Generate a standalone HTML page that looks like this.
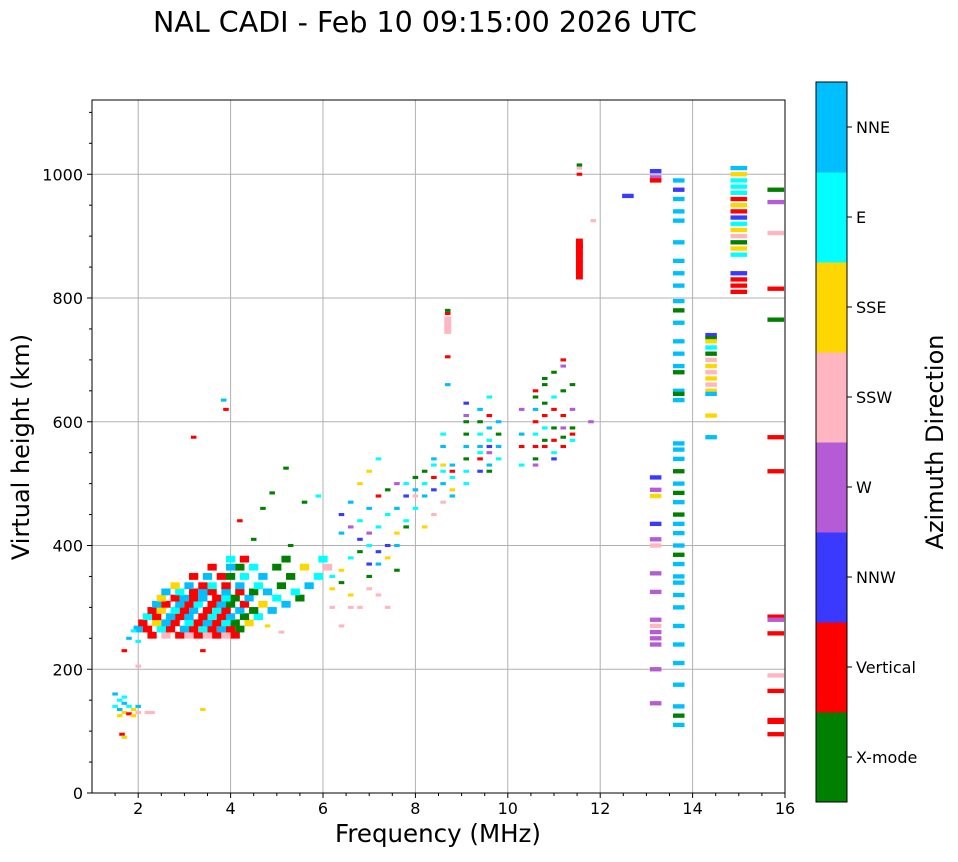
<!DOCTYPE html>
<html><head><meta charset="utf-8"><style>
body{margin:0;background:#fff;}
svg text{font-family:"DejaVu Sans","Liberation Sans",sans-serif;}
</style></head><body>
<svg id="chart" width="958" height="857" xmlns="http://www.w3.org/2000/svg">
<text x="425" y="32" font-size="28.5" text-anchor="middle">NAL CADI - Feb 10 09:15:00 2026 UTC</text>
<g id="grid"></g><g id="marks"></g><g id="axes"></g><g id="cbar"></g>
<text x="438" y="842" font-size="24.5" text-anchor="middle">Frequency (MHz)</text>
<text transform="translate(29,447) rotate(-90)" font-size="24" text-anchor="middle">Virtual height (km)</text>
<text transform="translate(943,442) rotate(-90)" font-size="24" text-anchor="middle">Azimuth Direction</text>
</svg>
<script>
const xTicks=[2,4,6,8,10,12,14,16];
const yTicks=[0,200,400,600,800,1000];
const dirNames=["X-mode","Vertical","NNW","W","SSW","SSE","E","NNE"];
const dirColors=["#008000","#ff0000","#3a3aff","#b65bd6","#ffb6c1","#ffd700","#00ffff","#00bfff"];
// dense cluster [freq, height, dirIndex]
const densePoints=[
[2.3,255,1],[2.6,255,4],[2.9,255,1],[3.1,255,4],[3.3,255,1],[3.5,255,4],[3.7,255,1],[3.9,255,4],[4.1,255,1],
[2.0,265,7],[2.2,265,1],[2.5,265,6],[2.7,265,1],[3.0,265,7],[3.2,265,1],[3.4,265,6],[3.6,265,1],[3.8,265,7],[4.0,265,1],[4.2,265,0],
[2.1,275,1],[2.4,275,5],[2.6,275,7],[2.8,275,1],[3.1,275,6],[3.3,275,1],[3.5,275,7],[3.7,275,1],[3.9,275,6],[4.1,275,0],[4.4,275,5],
[2.2,285,6],[2.4,285,1],[2.7,285,7],[2.9,285,1],[3.1,285,7],[3.4,285,1],[3.6,285,6],[3.8,285,1],[4.0,285,7],[4.3,285,0],[4.6,285,6],
[2.3,295,1],[2.5,295,5],[2.8,295,6],[3.0,295,1],[3.2,295,7],[3.5,295,1],[3.7,295,6],[3.9,295,1],[4.2,295,7],[4.5,295,0],[4.9,295,7],
[2.4,305,7],[2.6,305,1],[2.9,305,7],[3.1,305,1],[3.3,305,6],[3.6,305,1],[3.8,305,7],[4.0,305,0],[4.3,305,1],[4.7,305,5],[5.2,305,7],
[2.5,315,5],[2.8,315,1],[3.0,315,7],[3.2,315,1],[3.4,315,7],[3.7,315,1],[3.9,315,6],[4.1,315,0],[4.4,315,7],[5.0,315,6],[5.5,315,0],
[2.6,325,7],[2.9,325,6],[3.2,325,1],[3.4,325,7],[3.6,325,1],[3.9,325,7],[4.2,325,1],[4.5,325,0],[4.8,325,7],[5.4,325,6],
[2.8,335,5],[3.1,335,7],[3.4,335,1],[3.6,335,6],[3.9,335,1],[4.2,335,7],[4.6,335,6],[5.1,335,0],[5.7,335,7],
[3.2,350,1],[3.5,350,7],[3.8,350,1],[4.0,350,0],[4.3,350,6],[4.7,350,7],[5.3,350,0],[5.9,350,6],
[3.6,365,1],[4.0,365,7],[4.2,365,0],[4.5,365,6],[5.0,365,0],[5.6,365,5],[6.1,365,4],
[4.0,378,6],[4.3,378,1],[5.2,378,0],[6.0,378,6]
];
// sparse echoes [freq, height, dirIndex]
const sparsePoints=[
[1.5,160,7],[1.6,150,6],[1.7,145,7],[1.5,140,6],[1.6,135,7],[1.7,130,5],[1.8,128,1],[1.9,135,5],[2.0,130,4],[1.8,140,6],[1.9,125,5],[2.2,130,4],[2.3,130,4],[1.7,155,6],[1.65,95,1],[1.7,90,5],[2.0,140,7],[1.6,125,5],
[4.2,440,1],[4.5,410,0],[4.9,485,0],[5.2,525,0],[5.6,470,0],[5.9,480,6],[5.3,400,0],[4.7,460,0],[3.9,620,1],[3.85,635,7],[3.2,575,1],[3.4,230,1],[3.4,135,5],[1.7,230,1],[1.8,250,7],[1.9,262,6],[2.0,245,6],[6.4,270,4],[4.8,270,5],[5.1,260,4],[2.0,205,4],
[6.2,330,5],[6.2,350,6],[6.2,300,4],[6.4,340,0],[6.4,360,5],[6.4,420,7],[6.4,450,2],[6.6,300,4],[6.6,380,6],[6.6,430,3],[6.6,470,7],[6.6,320,5],
[6.8,390,0],[6.8,410,2],[6.8,440,6],[6.8,500,5],[6.8,300,4],[7.0,370,2],[7.0,400,6],[7.0,420,3],[7.0,460,7],[7.0,520,5],[7.0,330,4],[7.0,350,0],
[7.2,370,7],[7.2,390,2],[7.2,430,6],[7.2,480,1],[7.2,540,6],[7.2,320,4],[7.4,380,5],[7.4,400,2],[7.4,450,6],[7.4,490,0],[7.4,300,4],
[7.6,400,7],[7.6,420,5],[7.6,460,7],[7.6,500,3],[7.6,360,0],[7.8,440,6],[7.8,480,2],[7.8,500,6],[7.8,430,0],[8.0,460,6],[8.0,490,7],[8.0,510,0],[8.0,480,4],
[8.2,480,7],[8.2,500,6],[8.2,430,5],[8.2,520,0],[8.4,490,2],[8.4,510,1],[8.4,530,6],[8.4,540,7],[8.4,450,4],[8.6,500,7],[8.6,520,6],[8.6,560,7],[8.6,580,6],[8.6,470,4],[8.6,530,5],
[8.8,510,6],[8.8,530,7],[8.8,520,1],[8.8,490,5],[8.8,480,7],[8.7,705,1],[8.7,660,7],[8.7,780,0],[8.7,775,1],
[9.1,520,6],[9.1,540,0],[9.1,560,7],[9.1,580,0],[9.1,600,0],[9.1,610,3],[9.1,630,2],[9.1,500,6],[9.4,520,2],[9.4,540,1],[9.4,560,7],[9.4,580,6],[9.4,600,0],[9.4,620,7],[9.4,550,6],
[9.6,530,7],[9.6,550,3],[9.6,570,6],[9.6,590,7],[9.6,610,1],[9.6,640,6],[9.6,560,2],[9.6,520,0],[9.8,540,6],[9.8,560,7],[9.8,580,0],[9.8,600,7],
[10.3,530,6],[10.3,560,1],[10.3,580,7],[10.3,620,3],[10.6,540,0],[10.6,560,1],[10.6,580,6],[10.6,600,1],[10.6,620,7],[10.6,640,0],[10.6,650,1],[10.6,530,3],
[10.8,560,1],[10.8,570,0],[10.8,590,6],[10.8,610,1],[10.8,630,0],[10.8,660,0],[10.8,670,0],[11.0,550,6],[11.0,570,1],[11.0,590,0],[11.0,620,1],[11.0,640,6],[11.0,680,0],[11.0,540,2],
[11.2,560,1],[11.2,575,0],[11.2,590,3],[11.2,610,1],[11.2,650,0],[11.2,690,3],[11.2,700,1],[11.4,570,6],[11.4,580,1],[11.4,590,0],[11.4,620,3],[11.4,660,0],[11.8,600,3],[11.85,925,4],
[11.55,1010,4],[11.55,1000,1],[11.55,1015,0]
];
// tall solid blocks [freq, height, dirIndex]
const blockPoints=[
[11.55,838,1],[11.55,852,1],[11.55,866,1],[11.55,880,1],[11.55,888,1],
[8.7,750,4],[8.7,762,4]
];
// right-hand columns [freq, height, dirIndex]
const columnPoints=[
[12.6,965,2],[13.2,1005,2],[13.2,995,3],[13.2,990,1],[13.2,510,2],[13.2,490,3],[13.2,480,5],[13.2,435,2],[13.2,410,3],[13.2,400,4],[13.2,355,3],[13.2,325,3],[13.2,280,3],[13.2,270,4],[13.2,260,3],[13.2,250,3],[13.2,240,3],[13.2,200,3],[13.2,145,3],
[13.7,990,7],[13.7,975,2],[13.7,960,7],[13.7,940,7],[13.7,925,7],[13.7,890,7],[13.7,860,7],[13.7,840,7],[13.7,820,7],[13.7,795,7],[13.7,780,0],[13.7,760,7],[13.7,730,7],[13.7,710,7],[13.7,690,7],[13.7,680,0],[13.7,650,7],[13.7,645,0],[13.7,635,7],[13.7,565,7],[13.7,555,7],[13.7,540,7],[13.7,520,0],[13.7,500,7],[13.7,485,0],[13.7,470,7],[13.7,450,0],[13.7,435,7],[13.7,420,7],[13.7,400,7],[13.7,385,0],[13.7,370,7],[13.7,350,7],[13.7,340,7],[13.7,320,7],[13.7,300,7],[13.7,270,7],[13.7,240,7],[13.7,210,7],[13.7,175,7],[13.7,140,7],[13.7,125,0],[13.7,110,7],
[14.4,740,2],[14.4,735,0],[14.4,730,5],[14.4,720,6],[14.4,710,0],[14.4,700,4],[14.4,690,5],[14.4,680,4],[14.4,670,5],[14.4,660,4],[14.4,650,5],[14.4,645,7],[14.4,610,5],[14.4,575,7],
[15.0,1010,7],[15.0,1000,5],[15.0,990,6],[15.0,980,6],[15.0,970,6],[15.0,960,1],[15.0,950,5],[15.0,940,1],[15.0,930,2],[15.0,920,6],[15.0,910,5],[15.0,900,4],[15.0,890,0],[15.0,880,5],[15.0,870,6],[15.0,840,2],[15.0,830,1],[15.0,820,1],[15.0,810,1],
[15.8,975,0],[15.8,955,3],[15.8,905,4],[15.8,815,1],[15.8,765,0],[15.8,575,1],[15.8,520,1],[15.8,285,1],[15.8,280,3],[15.8,258,1],[15.8,190,4],[15.8,165,1],[15.8,118,1],[15.8,115,1],[15.8,95,1]
];
const X0=92,X1=785,Y0=793,Y1=100,FMIN=1,FMAX=16,HMIN=0,HMAX=1120;
const xs=f=>X0+(f-FMIN)/(FMAX-FMIN)*(X1-X0);
const ys=h=>Y0-(h-HMIN)/(HMAX-HMIN)*(Y0-Y1);
const NS="http://www.w3.org/2000/svg";
function mk(tag,parent,attrs){const e=document.createElementNS(NS,tag);for(const k in attrs)e.setAttribute(k,attrs[k]);parent.appendChild(e);return e;}
const grid=document.getElementById('grid'),axes=document.getElementById('axes'),marks=document.getElementById('marks'),cbar=document.getElementById('cbar');
xTicks.forEach(t=>{const x=xs(t);
 const l=mk('line',grid,{x1:x,x2:x,y1:Y1,y2:Y0,stroke:'#b0b0b0','stroke-width':1});
 
 
 mk('line',axes,{x1:x,x2:x,y1:Y0,y2:Y0+5,stroke:'#000'});
 const tx=mk('text',axes,{x:x,y:Y0+21,'font-size':16,'text-anchor':'middle'});tx.textContent=t;
 
 
});
for(let f=1.5;f<16;f+=0.5){if(f%2!==0)mk('line',axes,{x1:xs(f),x2:xs(f),y1:Y0,y2:Y0+3,stroke:'#000'});}
yTicks.forEach(t=>{const y=ys(t);
 const l=mk('line',grid,{x1:X0,x2:X1,y1:y,y2:y,stroke:'#b0b0b0','stroke-width':1});
 
 
 mk('line',axes,{x1:X0-5,x2:X0,y1:y,y2:y,stroke:'#000'});
 const tx=mk('text',axes,{x:X0-9,y:y+6,'font-size':16,'text-anchor':'end'});tx.textContent=t;
 
 
});
for(let h=50;h<1120;h+=50){if(h%200!==0)mk('line',axes,{x1:X0-3,x2:X0,y1:ys(h),y2:ys(h),stroke:'#000'});}
const frame=mk('rect',axes,{x:X0,y:Y1,width:X1-X0,height:Y0-Y1,fill:'none',stroke:'#000','stroke-width':1});


function draw(arr,dh,wl,name){arr.forEach(p=>{const f=p[0],h=p[1],c=p[2];
 const w=f>12?(f>=14.8?0.36:0.25):wl;
 const r=mk('rect',marks,{x:xs(f-w/2),y:ys(h+dh/2),width:xs(f+w/2)-xs(f-w/2),height:ys(h-dh/2)-ys(h+dh/2),fill:dirColors[c]});
 
 
});}
draw(densePoints,11,0.2,'echo-cell');
draw(sparsePoints,5,0.12,'echo-cell');
draw(blockPoints,16,0.15,'echo-block');
draw(columnPoints,7,0.12,'echo-cell');
// colorbar
const CX=816,CW=31,CT=82,CB=802,seg=(CB-CT)/dirNames.length;
dirNames.forEach((n,i)=>{const y0=CB-(i+1)*seg;
 const r=mk('rect',cbar,{x:CX,y:y0,width:CW,height:seg+0.5,fill:dirColors[i]});
 
 
 const cy=y0+seg/2;
 mk('line',cbar,{x1:CX+CW,x2:CX+CW+5,y1:cy,y2:cy,stroke:'#000'});
 const t=mk('text',cbar,{x:CX+CW+9,y:cy+6,'font-size':16});t.textContent=n;
 
 
});
mk('rect',cbar,{x:CX,y:CT,width:CW,height:CB-CT,fill:'none',stroke:'#000','stroke-width':1});
</script>
</body></html>
